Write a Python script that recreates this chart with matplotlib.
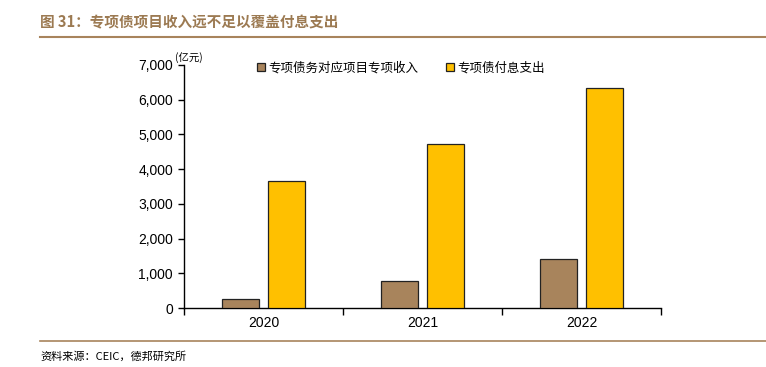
import numpy as np
import matplotlib.pyplot as plt

plt.rcParams['font.family'] = ['Noto Sans CJK SC', 'DejaVu Sans']

years = ["2020", "2021", "2022"]
income = [260, 780, 1410]
interest = [3670, 4730, 6340]
y_ticks = [0, 1000, 2000, 3000, 4000, 5000, 6000, 7000]

brown = "#A8845C"
gold = "#FFC000"
line_col = "#A8845C"

fig = plt.figure(figsize=(7.66, 3.67), dpi=100)
W, H = 766, 367
ax = fig.add_axes([184 / W, 1 - 308 / H, (661 - 184) / W, (308 - 65) / H])

x = np.arange(len(years))
bw = 0.23
off = 0.145
ax.bar(x - off, income, bw, color=brown, edgecolor="#222222", linewidth=0.9,
       label="专项债务对应项目专项收入", zorder=3)
ax.bar(x + off, interest, bw, color=gold, edgecolor="#222222", linewidth=0.9,
       label="专项债付息支出", zorder=3)

ax.set_xlim(-0.5, 2.5)
ax.set_ylim(0, 7000)
ax.set_yticks(y_ticks)
ax.set_yticklabels([f"{v:,}" for v in y_ticks], fontsize=10, family="Liberation Sans")
ax.set_xticks([-0.5, 0.5, 1.5, 2.5], minor=False)
ax.set_xticklabels([])
ax.set_xticks(x, minor=True)
ax.set_xticklabels(years, minor=True, fontsize=10, family="Liberation Sans")
ax.tick_params(axis="x", which="major", length=5, direction="out", width=1)
ax.tick_params(axis="x", which="minor", length=0, pad=6)
ax.tick_params(axis="y", length=4, direction="out", width=1, pad=4)
for s in ["top", "right"]:
    ax.spines[s].set_visible(False)
for s in ["left", "bottom"]:
    ax.spines[s].set_linewidth(1)

ax.legend(loc="upper left", bbox_to_anchor=(0.13, 1.06), ncol=2, frameon=False,
          fontsize=9, handlelength=0.6, handleheight=0.6, columnspacing=2.2,
          handletextpad=0.3)

fig.text(175 / W, 1 - 58 / H, "(亿元)", fontsize=7.5, ha="left", va="center")

fig.text(40 / W, 1 - 22 / H, "图 31：专项债项目收入远不足以覆盖付息支出", fontsize=10.5,
         color="#9C7A52", fontweight="bold", ha="left", va="center")
fig.add_artist(plt.Line2D([40 / W, 1], [1 - 37 / H, 1 - 37 / H], color=line_col, lw=1.5))
fig.add_artist(plt.Line2D([40 / W, 1], [1 - 341 / H, 1 - 341 / H], color=line_col, lw=1.2))
fig.text(40 / W, 1 - 356 / H, "资料来源：CEIC，德邦研究所", fontsize=8, ha="left", va="center")

fig.savefig("out.png", dpi=100)
